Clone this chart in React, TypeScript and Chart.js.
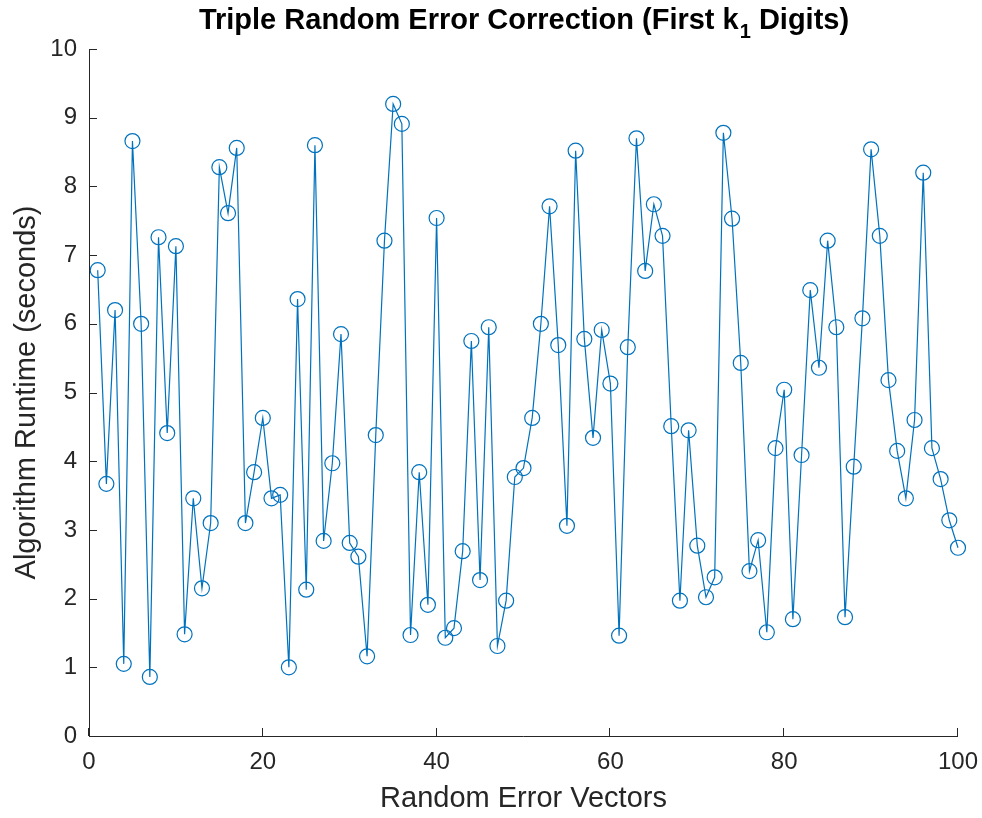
import React, { useEffect, useRef } from "react";
import { Chart, registerables } from "chart.js";

Chart.register(...registerables);

const TITLE_MAIN = "Triple Random Error Correction (First k";
const TITLE_SUB = "1";
const TITLE_END = " Digits)";
const X_LABEL = "Random Error Vectors";
const Y_LABEL = "Algorithm Runtime (seconds)";

const X_TICKS = [0, 20, 40, 60, 80, 100];
const Y_TICKS = [0, 1, 2, 3, 4, 5, 6, 7, 8, 9, 10];

const runtimes = [
  6.78, 3.67, 6.2, 1.05, 8.66, 6.0, 0.86, 7.26, 4.41, 7.13,
  1.48, 3.46, 2.15, 3.1, 8.28, 7.61, 8.56, 3.1, 3.84, 4.63,
  3.46, 3.51, 1.0, 6.36, 2.13, 8.6, 2.84, 3.97, 5.85, 2.81,
  2.61, 1.16, 4.38, 7.21, 9.2, 8.91, 1.47, 3.84, 1.91, 7.54,
  1.43, 1.57, 2.69, 5.75, 2.27, 5.95, 1.31, 1.97, 3.77, 3.9,
  4.63, 6.0, 7.71, 5.69, 3.06, 8.52, 5.78, 4.34, 5.91, 5.13,
  1.46, 5.66, 8.7, 6.77, 7.74, 7.28, 4.51, 1.97, 4.45, 2.77,
  2.02, 2.31, 8.78, 7.53, 5.43, 2.4, 2.85, 1.51, 4.19, 5.04,
  1.7, 4.09, 6.49, 5.36, 7.21, 5.95, 1.73, 3.92, 6.08, 8.54,
  7.28, 5.18, 4.15, 3.46, 4.6, 8.2, 4.19, 3.74, 3.14, 2.74,
];

const AXIS_COLOR = "#262626";
const LINE_COLOR = "#0072BD";
const FONT = "'Liberation Sans', Arial, Helvetica, sans-serif";

const matlabAxes = {
  id: "matlabAxes",
  afterDraw(chart: any) {
    const { ctx, chartArea, scales } = chart;
    const { left, right, top, bottom } = chartArea;
    ctx.save();
    ctx.strokeStyle = AXIS_COLOR;
    ctx.lineWidth = 1;
    ctx.beginPath();
    ctx.moveTo(left + 0.5, top);
    ctx.lineTo(left + 0.5, bottom + 0.5);
    ctx.lineTo(right, bottom + 0.5);
    ctx.stroke();
    const tl = 8;
    ctx.beginPath();
    for (const v of Y_TICKS) {
      const y = Math.round(scales.y.getPixelForValue(v)) + 0.5;
      ctx.moveTo(left, y);
      ctx.lineTo(left + tl, y);
    }
    for (const v of X_TICKS) {
      const x = Math.round(scales.x.getPixelForValue(v)) - 0.5;
      ctx.moveTo(x, bottom);
      ctx.lineTo(x, bottom - tl);
    }
    ctx.stroke();

    // title with subscript
    ctx.fillStyle = "#000";
    ctx.textBaseline = "alphabetic";
    ctx.textAlign = "left";
    const mainFont = `bold 29px ${FONT}`;
    const subFont = `bold 20px ${FONT}`;
    ctx.font = mainFont;
    const w1 = ctx.measureText(TITLE_MAIN).width;
    const w3 = ctx.measureText(TITLE_END).width;
    ctx.font = subFont;
    const w2 = ctx.measureText(TITLE_SUB).width;
    const total = w1 + w2 + w3;
    const cx = (left + right) / 2;
    let x = cx - total / 2;
    const base = 29;
    ctx.font = mainFont;
    ctx.fillText(TITLE_MAIN, x, base);
    x += w1;
    ctx.font = subFont;
    ctx.fillText(TITLE_SUB, x + 1, base + 9);
    x += w2 + 1;
    ctx.font = mainFont;
    ctx.fillText(TITLE_END, x, base);
    ctx.restore();
  },
};

export default function App() {
  const ref = useRef<HTMLCanvasElement | null>(null);

  useEffect(() => {
    document.body.style.margin = "0";
    const canvas = ref.current;
    if (!canvas) return;
    const chart = new Chart(canvas, {
      type: "line",
      data: {
        datasets: [
          {
            data: runtimes.map((v, i) => ({ x: i + 1, y: v })),
            borderColor: LINE_COLOR,
            borderWidth: 1.2,
            backgroundColor: "transparent",
            pointStyle: "circle",
            pointRadius: 7.5,
            pointBorderWidth: 1.2,
            pointBorderColor: LINE_COLOR,
            pointBackgroundColor: "transparent",
            tension: 0,
            fill: false,
            clip: false,
          } as any,
        ],
      },
      options: {
        responsive: false,
        animation: false,
        maintainAspectRatio: false,
        layout: { padding: { top: 49, right: 24, left: 0, bottom: 0 } },
        plugins: {
          legend: { display: false },
          tooltip: { enabled: false },
          title: { display: false },
        },
        scales: {
          x: {
            type: "linear",
            min: 0,
            max: 100,
            afterBuildTicks: (s: any) => {
              s.ticks = X_TICKS.map((v) => ({ value: v }));
            },
            afterFit: (s: any) => {
              s.height = 82;
              s.paddingLeft = 0;
              s.paddingRight = 0;
            },
            grid: { display: false, drawTicks: false },
            border: { display: false },
            ticks: {
              color: AXIS_COLOR,
              font: { family: FONT, size: 24 },
              padding: 12,
              maxRotation: 0,
              autoSkip: false,
            },
            title: {
              display: true,
              text: X_LABEL,
              color: AXIS_COLOR,
              font: { family: FONT, size: 29 },
              padding: { top: 0, bottom: 2 },
            },
          },
          y: {
            type: "linear",
            min: 0,
            max: 10,
            afterBuildTicks: (s: any) => {
              s.ticks = Y_TICKS.map((v) => ({ value: v }));
            },
            afterFit: (s: any) => {
              s.width = 89;
              s.paddingTop = 0;
              s.paddingBottom = 0;
            },
            grid: { display: false, drawTicks: false },
            border: { display: false },
            ticks: {
              color: AXIS_COLOR,
              font: { family: FONT, size: 24 },
              padding: 12,
              autoSkip: false,
            },
            title: {
              display: true,
              text: Y_LABEL,
              color: AXIS_COLOR,
              font: { family: FONT, size: 29 },
              padding: { top: 10, bottom: 0 },
            },
          },
        },
      },
      plugins: [matlabAxes],
    });
    return () => chart.destroy();
  }, []);

  return <canvas ref={ref} width={982} height={818} style={{ display: "block" }} />;
}
